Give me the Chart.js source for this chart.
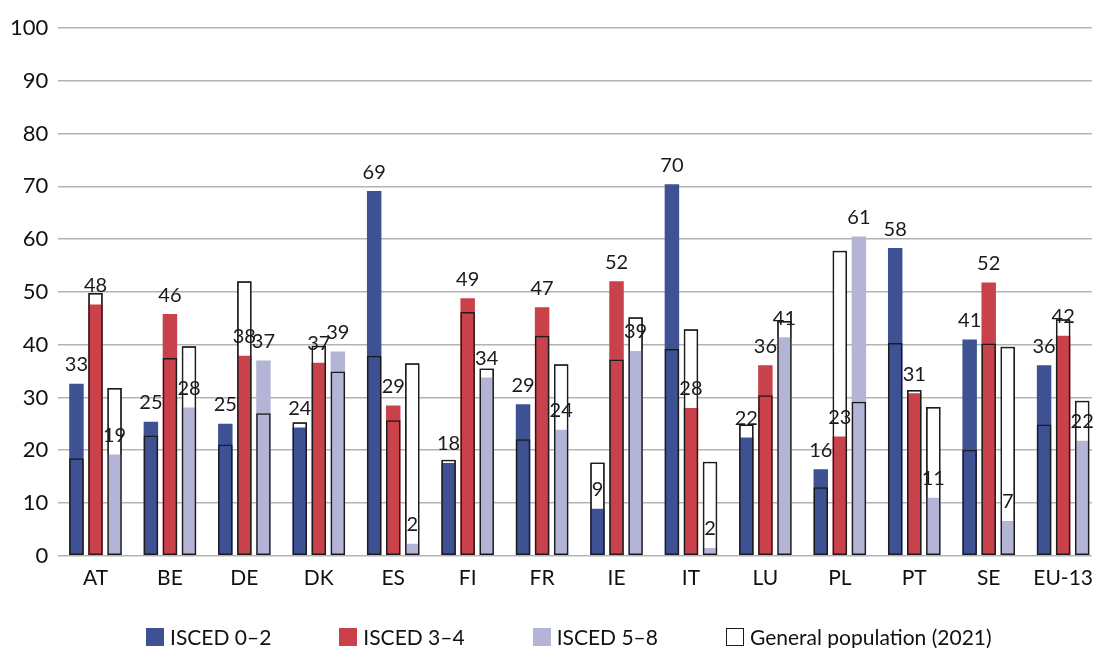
<!DOCTYPE html>
<html lang="en">
<head>
<meta charset="UTF-8" />
<title>ISCED vs general population</title>
<script src="https://cdn.jsdelivr.net/npm/chart.js"></script>
<style>
  body { margin: 0; background: #fff; font-family: Lato, "Open Sans", sans-serif; }
  #wrap { position: relative; width: 1103px; height: 648px; }
  #legend { position: absolute; left: 146px; top: 624px; display: flex; align-items: center; }
  #legend .item { display: flex; align-items: center; margin-right: 68px; font-size: 21px; color: #111; }
  #legend .box { width: 18px; height: 18px; margin-right: 6px; box-sizing: border-box; }
</style>
</head>
<body>
<div id="wrap">
    <canvas id="barChart"></canvas>
    <div id="legend"></div>
</div>
<script>
const countries = ['AT', 'BE', 'DE', 'DK', 'ES', 'FI', 'FR', 'IE', 'IT', 'LU', 'PL', 'PT', 'SE', 'EU-13'];
const isced02 = [32.6, 25.4, 25.0, 24.3, 69.1, 17.6, 28.7, 8.9, 70.4, 22.4, 16.4, 58.3, 41.0, 36.1];
const isced34 = [47.6, 45.8, 37.9, 36.6, 28.5, 48.8, 47.1, 52.0, 28.0, 36.1, 22.6, 30.8, 51.8, 41.7];
const isced58 = [19.2, 28.1, 37.0, 38.7, 2.3, 33.8, 23.9, 38.8, 1.5, 41.4, 60.5, 11.0, 6.6, 21.8];
// general population (2021), one value per education group
const gen02 = [18.5, 22.8, 21.1, 25.3, 37.9, 18.2, 22.1, 17.7, 39.2, 24.9, 13.0, 40.3, 20.1, 24.9];
const gen34 = [49.8, 37.5, 52.0, 39.8, 25.7, 46.2, 41.7, 37.2, 42.9, 30.4, 57.8, 31.4, 40.2, 44.8];
const gen58 = [31.8, 39.7, 27.0, 34.9, 36.5, 35.5, 36.3, 45.2, 17.8, 44.5, 29.2, 28.2, 39.6, 29.4];
const yTicks = [0, 10, 20, 30, 40, 50, 60, 70, 80, 90, 100];

const blue = '#3d5193';
const red = '#c9414a';
const lilac = '#b3b4d6';
const edge = '#1c1c1c';
const fontFamily = 'Lato, "Open Sans", sans-serif';

Chart.defaults.font.family = fontFamily;
Chart.defaults.color = '#111';

// the original figure is cut off on the right, so the last group sits close to the edge
function points(values) {
    return values.map((v, i) => ({ x: i, y: v }));
}

// numbers above the coloured bars
const valueLabels = {
    id: 'valueLabels',
    afterDatasetsDraw(chart) {
        const ctx = chart.ctx;
        ctx.save();
        ctx.font = '20px ' + fontFamily;
        ctx.fillStyle = '#1a1a1a';
        ctx.textAlign = 'center';
        ctx.textBaseline = 'middle';
        [0, 1, 2].forEach(di => {
            const meta = chart.getDatasetMeta(di);
            meta.data.forEach((bar, i) => {
                const v = chart.data.datasets[di].data[i].y;
                ctx.fillText(Math.round(v), bar.x, bar.y - 19);
            });
        });
        ctx.restore();
    }
};

// legend built as html from the chart's own legend items
const htmlLegend = {
    id: 'htmlLegend',
    afterUpdate(chart) {
        const box = document.getElementById('legend');
        box.innerHTML = '';
        const items = Chart.defaults.plugins.legend.labels.generateLabels(chart)
            .filter(item => item.datasetIndex <= 3)
            .sort((a, b) => a.datasetIndex - b.datasetIndex);
        items.forEach(item => {
            const el = document.createElement('div');
            el.className = 'item';
            const sw = document.createElement('span');
            sw.className = 'box';
            sw.style.background = item.fillStyle;
            if (item.lineWidth) sw.style.border = '1.5px solid ' + item.strokeStyle;
            const txt = document.createElement('span');
            txt.textContent = item.text;
            el.appendChild(sw);
            el.appendChild(txt);
            box.appendChild(el);
        });
    }
};

function colouredSet(label, values, colour, stack) {
    return { label: label, data: points(values), backgroundColor: colour, borderWidth: 0, stack: stack, order: 1 };
}
function fillSet(values, stack) {
    return { label: 'General population (2021)', data: points(values), backgroundColor: '#fff',
        borderColor: edge, borderWidth: 1.5, borderSkipped: false, stack: stack, order: 2 };
}
function lineSet(values, stack) {
    return { label: '', data: points(values), backgroundColor: 'rgba(0,0,0,0)',
        borderColor: edge, borderWidth: 1.5, borderSkipped: false, stack: stack, order: 0 };
}

new Chart(document.getElementById('barChart'), {
    type: 'bar',
    data: {
        datasets: [
            colouredSet('ISCED 0–2', isced02, blue, 'g1'),
            colouredSet('ISCED 3–4', isced34, red, 'g2'),
            colouredSet('ISCED 5–8', isced58, lilac, 'g3'),
            fillSet(gen02, 'g1'), fillSet(gen34, 'g2'), fillSet(gen58, 'g3'),
            lineSet(gen02, 'g1'), lineSet(gen34, 'g2'), lineSet(gen58, 'g3')
        ]
    },
    options: {
        responsive: true,
        maintainAspectRatio: false,
        animation: false,
        datasets: { bar: { categoryPercentage: 0.768, barPercentage: 0.76 } },
        layout: { padding: { top: 28, left: 0, right: 0, bottom: 47 } },
        scales: {
            x: {
                type: 'linear',
                stacked: true,
                offset: false,
                min: -0.5,
                max: 13.385,
                afterBuildTicks: axis => { axis.ticks = countries.map((c, i) => ({ value: i })); },
                grid: { display: false, drawTicks: false },
                border: { display: false },
                ticks: {
                    autoSkip: false,
                    maxRotation: 0,
                    padding: 10,
                    font: { size: 21 },
                    color: '#111',
                    callback: v => countries[v]
                }
            },
            y: {
                stacked: false,
                min: 0,
                max: 100,
                afterBuildTicks: axis => { axis.ticks = yTicks.map(v => ({ value: v })); },
                grid: { color: '#b3b3b3', lineWidth: 1.5, drawTicks: false },
                border: { display: false },
                ticks: { font: { size: 22 }, color: '#111', padding: 10 }
            }
        },
        plugins: {
            tooltip: { enabled: false },
            legend: { display: false }
        }
    },
    plugins: [valueLabels, htmlLegend]
});
</script>
</body>
</html>
